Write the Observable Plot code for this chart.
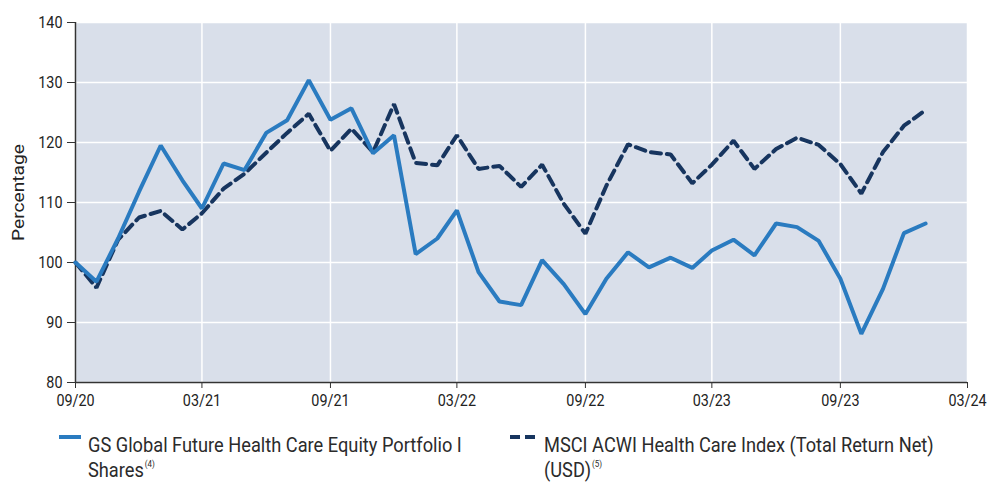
<!DOCTYPE html>
<html>
<head>
<meta charset="utf-8">
<script src="https://cdn.jsdelivr.net/npm/d3@7"></script>
<script src="https://cdn.jsdelivr.net/npm/@observablehq/plot@0.6"></script>
<style>
  html, body { margin: 0; padding: 0; background: #fff; }
  body { width: 999px; height: 482px; overflow: hidden; font-family: Roboto, sans-serif; color: #2b2b2b; }
  #chart svg, #legend { display: block; }
</style>
</head>
<body>
<div id="chart"></div>
<svg id="legend" width="999" height="68"></svg>
<script>
const startMonth = "2020-09";
const endMonth = "2024-01";
const fundName = "GS Global Future Health Care Equity Portfolio I Shares";
const indexName = "MSCI ACWI Health Care Index (Total Return Net) (USD)";
const fundLegendLines = ["GS Global Future Health Care Equity Portfolio I", "Shares"];
const fundNote = "(4)";
const indexLegendLines = ["MSCI ACWI Health Care Index (Total Return Net)", "(USD)"];
const indexNote = "(5)";
const fundValues = [100, 96.8, 104, 111.8, 119.5, 113.7, 109.0, 116.5, 115.4, 121.6, 123.7, 130.4, 123.8, 125.7, 118.2, 121.2,
  101.4, 104.0, 108.7, 98.4, 93.5, 92.9, 100.4, 96.4, 91.4, 97.3, 101.7, 99.2, 100.8, 99.1, 102.0, 103.8, 101.2, 106.5, 105.9, 103.6,
  97.3, 88.1, 95.6, 104.9, 106.5];
const indexValues = [100, 95.8, 103.8, 107.5, 108.6, 105.5, 108.2, 112.3, 114.8, 118.3, 121.6, 124.8, 118.6, 122.3, 118.4, 126.4,
  116.6, 116.2, 121.2, 115.6, 116.1, 112.6, 116.3, 109.8, 104.8, 112.8, 119.7, 118.4, 118.0, 113.2, 116.3, 120.3, 115.6, 118.9, 120.8, 119.6,
  116.4, 111.5, 118.4, 122.8, 125.4];
const xTickMonths = ["2020-09", "2021-03", "2021-09", "2022-03", "2022-09", "2023-03", "2023-09", "2024-03"];
const yTicks = [80, 90, 100, 110, 120, 130, 140];
const yLabel = "Percentage";
const fundColor = "#2a7bc0";
const indexColor = "#17355f";

const parse = d3.utcParse("%Y-%m");
const months = d3.utcMonth.range(parse(startMonth), d3.utcMonth.offset(parse(endMonth), 1));
const rows = [];
months.forEach((d, i) => {
  rows.push({date: d, value: fundValues[i], series: fundName});
  rows.push({date: d, value: indexValues[i], series: indexName});
});
const xTicks = xTickMonths.map(parse);
const fmt = d3.utcFormat("%m/%y");

const chart = Plot.plot({
  width: 999,
  height: 414,
  marginLeft: 75,
  marginRight: 32,
  marginTop: 22,
  marginBottom: 32,
  style: {fontFamily: "Roboto, sans-serif", fontSize: "16.5px", color: "#222", background: "#fff"},
  x: {type: "utc", domain: [xTicks[0], xTicks[xTicks.length - 1]]},
  y: {domain: [80, 140]},
  marks: [
    Plot.frame({fill: "#d9dfea", stroke: null}),
    Plot.gridX(xTicks, {stroke: "#fff", strokeOpacity: 1, strokeWidth: 1.5}),
    Plot.gridY(yTicks, {stroke: "#fff", strokeOpacity: 1, strokeWidth: 1.5}),
    Plot.axisX(xTicks, {tickFormat: fmt, tickSize: 6, tickPadding: 6, stroke: "#333", fontSize: 16.5, label: null}),
    Plot.axisY(yTicks, {tickSize: 8, tickPadding: 5, stroke: "#333", fontSize: 16.5, label: null}),
    Plot.text([yLabel], {frameAnchor: "left", textAnchor: "middle", dx: -57, dy: -10, rotate: -90, fontSize: 17, fill: "#222"}),
    Plot.ruleX([xTicks[0]], {stroke: "#333", strokeWidth: 1.5}),
    Plot.ruleY([80], {stroke: "#333", strokeWidth: 1.5}),
    Plot.lineY(rows.filter(d => d.series === indexName), {x: "date", y: "value", stroke: indexColor, strokeWidth: 4, strokeDasharray: "10,6", strokeLinejoin: "miter"}),
    Plot.lineY(rows.filter(d => d.series === fundName), {x: "date", y: "value", stroke: fundColor, strokeWidth: 4, strokeLinejoin: "miter"})
  ]
});
document.getElementById("chart").append(chart);

// narrow the tick labels (condensed look), widen the axis title
chart.querySelectorAll("text").forEach(el => {
  const isLabel = el.textContent === yLabel;
  const s = isLabel ? 1.13 : 0.87;
  const t = el.getAttribute("transform") || "";
  const x = +el.getAttribute("x") || 0;
  const y = +el.getAttribute("y") || 0;
  el.setAttribute("transform", `${t} translate(${x},${y}) scale(${s},1) translate(${-x},${-y})`);
});

// legend below the plot
const legend = d3.select("#legend").style("font-family", "Roboto, sans-serif");
function legendItem(swatchX, swatchW, color, dash, textX, lines, note) {
  legend.append("line").attr("x1", swatchX).attr("x2", swatchX + swatchW).attr("y1", 23).attr("y2", 23)
    .attr("stroke", color).attr("stroke-width", 4).attr("stroke-dasharray", dash);
  lines.forEach((line, i) => {
    const txt = legend.append("text")
      .attr("transform", `translate(${textX},${38 + i * 25}) scale(0.89,1)`)
      .attr("font-size", 20.5).attr("fill", "#2b2b2b").text(line);
    if (i === lines.length - 1) {
      txt.append("tspan").attr("font-size", 9).attr("dy", -10).attr("dx", 1).text(note);
    }
  });
}
legendItem(59, 22, fundColor, null, 88, fundLegendLines, fundNote);
legendItem(510, 26, indexColor, "10,5", 544, indexLegendLines, indexNote);
</script>
</body>
</html>
